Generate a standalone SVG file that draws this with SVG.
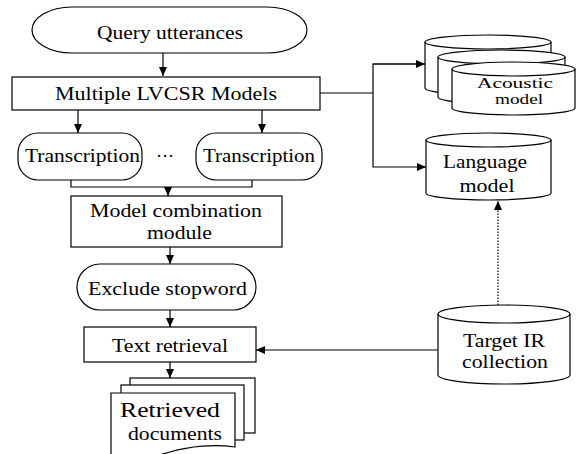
<svg xmlns="http://www.w3.org/2000/svg" width="576" height="454" viewBox="0 0 576 454">
<defs>
<marker id="ah" markerUnits="userSpaceOnUse" markerWidth="9" markerHeight="8" refX="9" refY="4" orient="auto">
<path d="M0,0 L9,4 L0,8 z" fill="#000"/>
</marker>
<style>
.s{fill:#fff;stroke:#000;stroke-width:1.2}
.c{fill:none;stroke:#000;stroke-width:1.2}
.t{font-family:"Liberation Serif","Times New Roman",serif;font-size:18px;fill:#000;text-anchor:middle}
.sm{font-size:14px}
</style>
</defs>
<rect width="576" height="454" fill="#fff"/>
<g id="connectors">
<line class="c" x1="163" y1="53" x2="163" y2="76" marker-end="url(#ah)"/>
<line class="c" x1="78" y1="110" x2="78" y2="133" marker-end="url(#ah)"/>
<line class="c" x1="262" y1="110" x2="262" y2="133" marker-end="url(#ah)"/>
<polyline class="c" points="71,180 71,187 252,187 252,180"/>
<line class="c" x1="168" y1="187" x2="168" y2="196" marker-end="url(#ah)"/>
<line class="c" x1="170" y1="247" x2="170" y2="264" marker-end="url(#ah)"/>
<line class="c" x1="170" y1="310" x2="170" y2="327" marker-end="url(#ah)"/>
<line class="c" x1="170" y1="362" x2="170" y2="378" marker-end="url(#ah)"/>
<polyline class="c" points="320,93 373,93"/>
<polyline class="c" points="425,64 373,64 373,167 426,167" marker-end="url(#ah)"/>
<line class="c" x1="373" y1="64" x2="425" y2="64" marker-end="url(#ah)"/>
<line class="c" x1="438" y1="350" x2="256" y2="350" marker-end="url(#ah)"/>
<line class="c" x1="498" y1="305" x2="498" y2="201" stroke-dasharray="1.5,1.5" marker-end="url(#ah)"/>
</g>
<g id="query">
<rect class="s" x="32" y="7" width="275" height="46" rx="40" ry="23"/>
<text class="t" x="170" y="39" textLength="146" lengthAdjust="spacingAndGlyphs">Query utterances</text>
</g>
<g id="lvcsr">
<rect class="s" x="12" y="77" width="308" height="33"/>
<text class="t" x="166" y="100" textLength="222" lengthAdjust="spacingAndGlyphs">Multiple LVCSR Models</text>
</g>
<g id="transcription1">
<rect class="s" x="18" y="133" width="124" height="47" rx="20" ry="20"/>
<text class="t" x="82.5" y="162" textLength="115" lengthAdjust="spacingAndGlyphs">Transcription</text>
</g>
<g id="ellipsis">
<text class="t" x="165" y="162">···</text>
</g>
<g id="transcription2">
<rect class="s" x="196" y="133" width="126" height="47" rx="20" ry="20"/>
<text class="t" x="259" y="162" textLength="112" lengthAdjust="spacingAndGlyphs">Transcription</text>
</g>
<g id="combination">
<rect class="s" x="71" y="196" width="211" height="51"/>
<text class="t" x="176" y="217" textLength="172" lengthAdjust="spacingAndGlyphs">Model combination</text>
<text class="t" x="179.5" y="239" textLength="65" lengthAdjust="spacingAndGlyphs">module</text>
</g>
<g id="stopword">
<rect class="s" x="77" y="264" width="179" height="46" rx="23" ry="23"/>
<text class="t" x="167.5" y="295" textLength="159" lengthAdjust="spacingAndGlyphs">Exclude stopword</text>
</g>
<g id="retrieval">
<rect class="s" x="84" y="327" width="172" height="35"/>
<text class="t" x="170" y="352" textLength="116" lengthAdjust="spacingAndGlyphs">Text retrieval</text>
</g>
<g id="documents">
<rect class="s" x="130" y="378" width="125" height="55"/>
<rect class="s" x="121" y="385" width="123" height="55"/>
<path class="s" d="M111,393 L235,393 L235,447 C215,444 190,446 170,452 C150,458 125,462 111,460 Z"/>
<text class="t" x="170" y="417" style="font-size:22px" textLength="100" lengthAdjust="spacingAndGlyphs">Retrieved</text>
<text class="t" x="175" y="440" textLength="94" lengthAdjust="spacingAndGlyphs">documents</text>
</g>
<g id="acoustic">
<path class="s" d="M425,42 L425,88 A63,7 0 0 0 551,88 L551,42 A63,7 0 0 0 425,42 Z"/>
<path class="c" d="M425,42 A63,7 0 0 0 551,42"/>
<path class="s" d="M438,57 L438,97 A63.5,7 0 0 0 565,97 L565,57 A63.5,7 0 0 0 438,57 Z"/>
<path class="c" d="M438,57 A63.5,7 0 0 0 565,57"/>
<path class="s" d="M452,69 L452,108 A61.5,7 0 0 0 575,108 L575,69 A61.5,7 0 0 0 452,69 Z"/>
<path class="c" d="M452,69 A61.5,7 0 0 0 575,69"/>
<text class="t sm" x="515" y="88" textLength="76" lengthAdjust="spacingAndGlyphs">Acoustic</text>
<text class="t sm" x="519" y="104" textLength="48" lengthAdjust="spacingAndGlyphs">model</text>
</g>
<g id="language">
<path class="s" d="M426,140 L426,193 A62.5,7 0 0 0 551,193 L551,140 A62.5,7 0 0 0 426,140 Z"/>
<path class="c" d="M426,140 A62.5,7 0 0 0 551,140"/>
<text class="t" x="485" y="168" textLength="84" lengthAdjust="spacingAndGlyphs">Language</text>
<text class="t" x="487" y="192" textLength="55" lengthAdjust="spacingAndGlyphs">model</text>
</g>
<g id="target">
<path class="s" d="M438,314 L438,375 A66,9 0 0 0 570,375 L570,314 A66,9 0 0 0 438,314 Z"/>
<path class="c" d="M438,314 A66,9 0 0 0 570,314"/>
<text class="t" x="504" y="347" textLength="82" lengthAdjust="spacingAndGlyphs">Target IR</text>
<text class="t" x="505" y="368" textLength="86" lengthAdjust="spacingAndGlyphs">collection</text>
</g>
</svg>
